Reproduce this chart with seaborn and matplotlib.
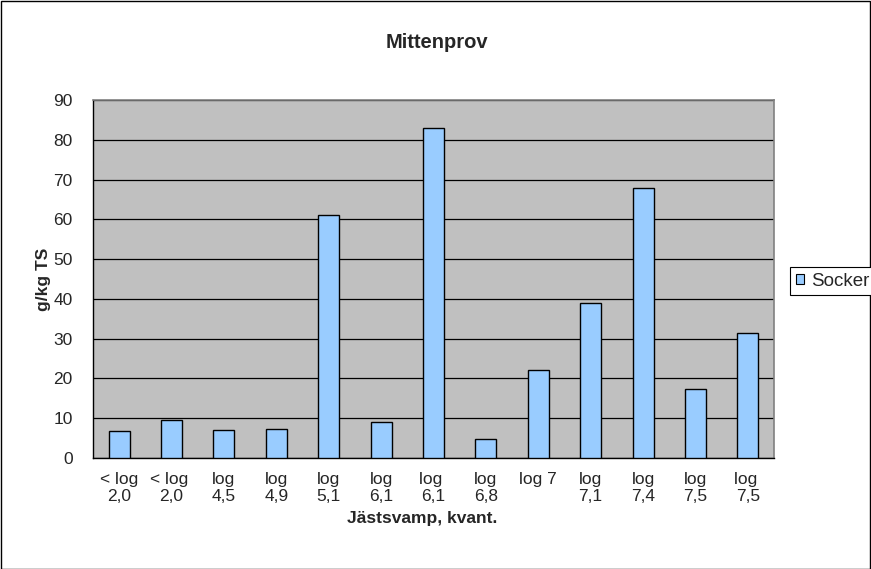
import matplotlib
matplotlib.use("Agg")
import matplotlib.pyplot as plt
from matplotlib.patches import Rectangle, Patch
from matplotlib.ticker import FixedLocator
import seaborn as sns
import pandas as pd
import numpy as np

categories = ["< log\n2,0", "< log \n2,0", "log\n4,5", "log\n4,9", "log\n5,1", "log\n6,1",
              "log \n6,1", "log\n6,8", "log 7\n", "log\n7,1", "log\n7,4", "log\n7,5", "log \n7,5"]
socker = [6.8, 9.5, 7.0, 7.3, 61.1, 9.1, 83.0, 4.9, 22.1, 38.9, 67.8, 17.3, 31.4]
yticks = [0, 10, 20, 30, 40, 50, 60, 70, 80, 90]

sns.set_style("white")
plt.rcParams["font.family"] = ["Liberation Sans", "DejaVu Sans"]

W, H = 871, 569
fig = plt.figure(figsize=(W / 100, H / 100), dpi=100)
fig.patch.set_facecolor("white")

left, right, top, bottom = 93, 774, 100, 458
ax = fig.add_axes([left / W, 1 - bottom / H, (right - left) / W, (bottom - top) / H])
ax.set_facecolor("#C0C0C0")

df = pd.DataFrame({"cat": categories, "val": socker})
sns.barplot(data=df, x="cat", y="val", order=categories, color="#99CCFF",
            edgecolor="black", linewidth=1.0, width=0.4, saturation=1, ax=ax, zorder=3)

ax.set_ylim(0, 90)
ax.set_xlim(-0.5, len(categories) - 0.5)
ax.set_yticks(yticks)
ax.set_yticklabels([str(v) for v in yticks], fontsize=12.5)
ax.yaxis.grid(True, color="black", linewidth=0.9, zorder=0)
ax.set_axisbelow(True)

ax.set_xticks(np.arange(len(categories)))
ax.set_xticklabels(categories, fontsize=12.5, linespacing=1.2, va="top")
ax.tick_params(axis="x", which="major", length=0, pad=10)
ax.xaxis.set_minor_locator(FixedLocator(np.arange(len(categories) + 1) - 0.5))
ax.tick_params(axis="x", which="minor", length=5, width=0.8, color="black", direction="out")
ax.tick_params(axis="y", which="major", length=5.5, width=0.8, color="black", direction="out", pad=9)

for side in ["left", "bottom"]:
    ax.spines[side].set_color("black")
    ax.spines[side].set_linewidth(1.0)
for side in ["top", "right"]:
    ax.spines[side].set_color("#808080")
    ax.spines[side].set_linewidth(1.2)

pw, ph = right - left, bottom - top
ax.set_xlabel("Jästsvamp, kvant.", fontsize=12.5, fontweight="bold")
ax.xaxis.set_label_coords((422 - left) / pw, -(519 - bottom) / ph)
ax.xaxis.label.set_va("center")
ax.set_ylabel("g/kg TS", fontsize=12.5, fontweight="bold")
ax.yaxis.set_label_coords((44 - left) / pw, 0.5)
ax.yaxis.label.set_va("center")

fig.text(437 / W, 1 - 43 / H, "Mittenprov", ha="center", va="center",
         fontsize=14.5, fontweight="bold")

handle = Patch(facecolor="#99CCFF", edgecolor="black", linewidth=0.8)
leg = fig.legend([handle], ["Socker"], loc="center left",
                 bbox_to_anchor=(790 / W, 1 - 281 / H), fontsize=13.5, frameon=True,
                 fancybox=False, edgecolor="black", framealpha=1, borderpad=0.3,
                 handlelength=0.45, handleheight=0.45, handletextpad=0.4, borderaxespad=0)
leg.get_frame().set_linewidth(0.8)

fig.patches.append(Rectangle((0.5 / W, 0.5 / H), 1 - 1.5 / W, 1 - 1.5 / H,
                             transform=fig.transFigure, fill=False, edgecolor="black",
                             linewidth=1.0))

fig.savefig("out.png", dpi=100)
